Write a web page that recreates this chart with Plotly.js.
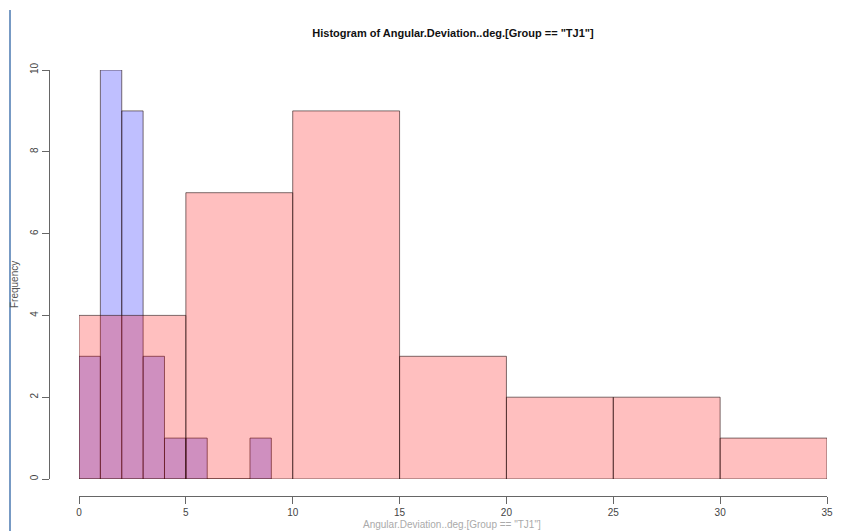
<!DOCTYPE html>
<html>
<head>
<meta charset="utf-8">
<script src="https://cdn.plot.ly/plotly-3.0.1.min.js"></script>
<style>html,body{margin:0;padding:0;background:#fff;}#chart{width:845px;height:531px;}</style>
</head>
<body>
<div id="chart"></div>
<script>
// Red histogram (bin width 5)
const redBinStarts = [0, 5, 10, 15, 20, 25, 30];
const redCounts    = [4, 7, 9, 3, 2, 2, 1];
const redBinWidth  = 5;
// Blue histogram (bin width 1)
const blueBinStarts = [0, 1, 2, 3, 4, 5, 6, 7, 8];
const blueCounts    = [3, 10, 9, 3, 1, 1, 0, 0, 1];
const blueBinWidth  = 1;
const xTicks = [0, 5, 10, 15, 20, 25, 30, 35];
const yTicks = [0, 2, 4, 6, 8, 10];
const titleText = 'Histogram of Angular.Deviation..deg.[Group == "TJ1"]';

const W = 845, H = 531;
const mL = 49, mR = 18, mT = 70, mB = 35;
const pw = W - mL - mR, ph = H - mT - mB;

const border = {color: 'rgba(40,20,20,0.6)', width: 1};
const blue = {
  type: 'bar',
  x: blueBinStarts.map(s => s + blueBinWidth / 2),
  y: blueCounts,
  width: blueBinStarts.map(() => blueBinWidth),
  marker: {color: 'rgba(0,0,255,0.25)', line: border},
  hoverinfo: 'x+y'
};
const red = {
  type: 'bar',
  x: redBinStarts.map(s => s + redBinWidth / 2),
  y: redCounts,
  width: redBinStarts.map(() => redBinWidth),
  marker: {color: 'rgba(255,0,0,0.25)', line: border},
  hoverinfo: 'x+y'
};

const axisCommon = {
  showgrid: false, zeroline: false, showline: true,
  linecolor: '#666', linewidth: 1,
  ticks: 'outside', ticklen: 7, tickcolor: '#666', tickwidth: 1,
  tickfont: {family: 'Liberation Sans, Arial, sans-serif', size: 10, color: '#444'},
  tickmode: 'array', fixedrange: true
};

const layout = {
  width: W, height: H,
  margin: {l: mL, r: mR, t: mT, b: mB, pad: 0},
  paper_bgcolor: '#fff', plot_bgcolor: '#fff',
  showlegend: false,
  barmode: 'overlay', bargap: 0,
  title: {
    text: titleText,
    font: {family: 'Liberation Sans, Arial, sans-serif', size: 11, color: '#111', weight: 'bold'},
    xref: 'container', x: 453 / W, xanchor: 'center',
    yref: 'container', y: 1 - 33 / H, yanchor: 'middle'
  },
  xaxis: Object.assign({}, axisCommon, {
    range: [0, 35], domain: [(79 - mL) / pw, 1],
    tickvals: xTicks, ticktext: xTicks.map(String),
    anchor: 'free', position: 0
  }),
  yaxis: Object.assign({}, axisCommon, {
    range: [0, 10], domain: [(496 - 479) / ph, 1],
    tickvals: yTicks, ticktext: yTicks.map(String),
    tickangle: -90,
    anchor: 'free', position: 0
  }),
  annotations: [
    {
      text: 'Frequency', textangle: -90, showarrow: false,
      xref: 'paper', yref: 'paper',
      x: (14 - mL) / pw, y: (496 - 285) / ph,
      xanchor: 'center', yanchor: 'middle',
      font: {family: 'Liberation Sans, Arial, sans-serif', size: 10, color: '#555'}
    },
    {
      text: 'Angular.Deviation..deg.[Group == "TJ1"]', showarrow: false,
      xref: 'paper', yref: 'paper',
      x: (452 - mL) / pw, y: (496 - 524) / ph,
      xanchor: 'center', yanchor: 'middle',
      font: {family: 'Liberation Sans, Arial, sans-serif', size: 10, color: '#aaa'}
    }
  ],
  shapes: [
    {
      type: 'line', xref: 'paper', yref: 'paper',
      x0: (10 - mL) / pw, x1: (10 - mL) / pw,
      y0: (496 - 10) / ph, y1: (496 - 540) / ph,
      line: {color: '#4a78b0', width: 1.5}
    }
  ]
};

Plotly.newPlot('chart', [blue, red], layout, {displayModeBar: false, staticPlot: true});
</script>
</body>
</html>
